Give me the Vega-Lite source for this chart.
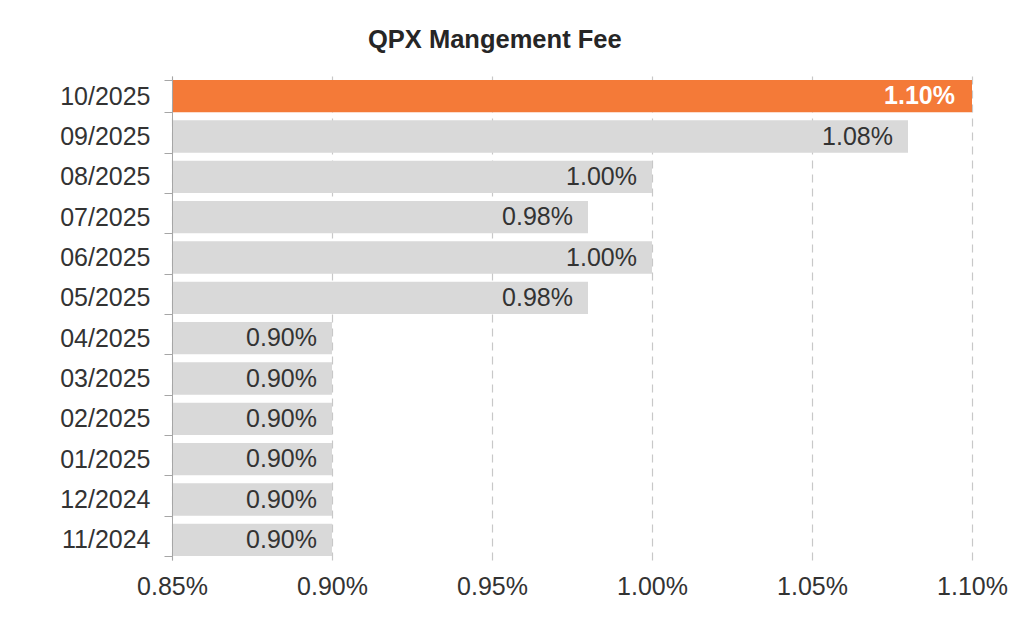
{
  "$schema": "https://vega.github.io/schema/vega-lite/v6.json",
  "width": 800,
  "height": 484,
  "autosize": {"type": "none"},
  "padding": {"left": 172, "top": 76, "right": 52, "bottom": 75},
  "background": "white",
  "title": {
    "text": "QPX Mangement Fee",
    "anchor": "start",
    "frame": "group",
    "dx": 196,
    "offset": 11,
    "font": "Liberation Sans",
    "fontSize": 25.5,
    "fontWeight": "bold",
    "color": "#262626"
  },
  "data": {
    "values": [
      {"month": "10/2025", "fee": 0.011, "current": true},
      {"month": "09/2025", "fee": 0.0108, "current": false},
      {"month": "08/2025", "fee": 0.01, "current": false},
      {"month": "07/2025", "fee": 0.0098, "current": false},
      {"month": "06/2025", "fee": 0.01, "current": false},
      {"month": "05/2025", "fee": 0.0098, "current": false},
      {"month": "04/2025", "fee": 0.009, "current": false},
      {"month": "03/2025", "fee": 0.009, "current": false},
      {"month": "02/2025", "fee": 0.009, "current": false},
      {"month": "01/2025", "fee": 0.009, "current": false},
      {"month": "12/2024", "fee": 0.009, "current": false},
      {"month": "11/2024", "fee": 0.009, "current": false}
    ]
  },
  "encoding": {
    "y": {
      "field": "month",
      "type": "nominal",
      "sort": null,
      "title": null,
      "scale": {"paddingInner": 0.2, "paddingOuter": 0.1},
      "axis": {
        "tickBand": "extent",
        "tickSize": 8,
        "tickColor": "#a6a6a6",
        "domainColor": "#a6a6a6",
        "labelPadding": 14,
        "labelFont": "Liberation Sans",
        "labelFontSize": 25,
        "labelColor": "#333333",
        "zindex": 1
      }
    },
    "x": {
      "field": "fee",
      "type": "quantitative",
      "title": null,
      "scale": {"domain": [0.0085, 0.011], "nice": false, "zero": false},
      "axis": {
        "values": [0.0085, 0.009, 0.0095, 0.01, 0.0105, 0.011],
        "format": ".2%",
        "domain": false,
        "ticks": false,
        "labelFlush": false,
        "labelBound": false,
        "labelOverlap": false,
        "labelPadding": 14,
        "labelFont": "Liberation Sans",
        "labelFontSize": 25,
        "labelColor": "#333333",
        "grid": true,
        "gridColor": "#c8c8c8",
        "gridDash": [8, 6],
        "gridWidth": 1.2
      }
    }
  },
  "layer": [
    {
      "mark": {"type": "bar", "clip": true},
      "encoding": {
        "color": {
          "condition": {"test": "datum.current", "value": "#F47A38"},
          "value": "#D9D9D9"
        }
      }
    },
    {
      "transform": [{"filter": "!datum.current"}],
      "mark": {
        "type": "text",
        "align": "right",
        "baseline": "middle",
        "dx": -15,
        "font": "Liberation Sans",
        "fontSize": 25,
        "color": "#333333"
      },
      "encoding": {
        "text": {"field": "fee", "type": "quantitative", "format": ".2%"}
      }
    },
    {
      "transform": [{"filter": "datum.current"}],
      "mark": {
        "type": "text",
        "align": "right",
        "baseline": "middle",
        "dx": -17,
        "font": "Liberation Sans",
        "fontSize": 25,
        "fontWeight": "bold",
        "color": "#ffffff"
      },
      "encoding": {
        "text": {"field": "fee", "type": "quantitative", "format": ".2%"}
      }
    }
  ],
  "config": {"view": {"stroke": null}}
}
